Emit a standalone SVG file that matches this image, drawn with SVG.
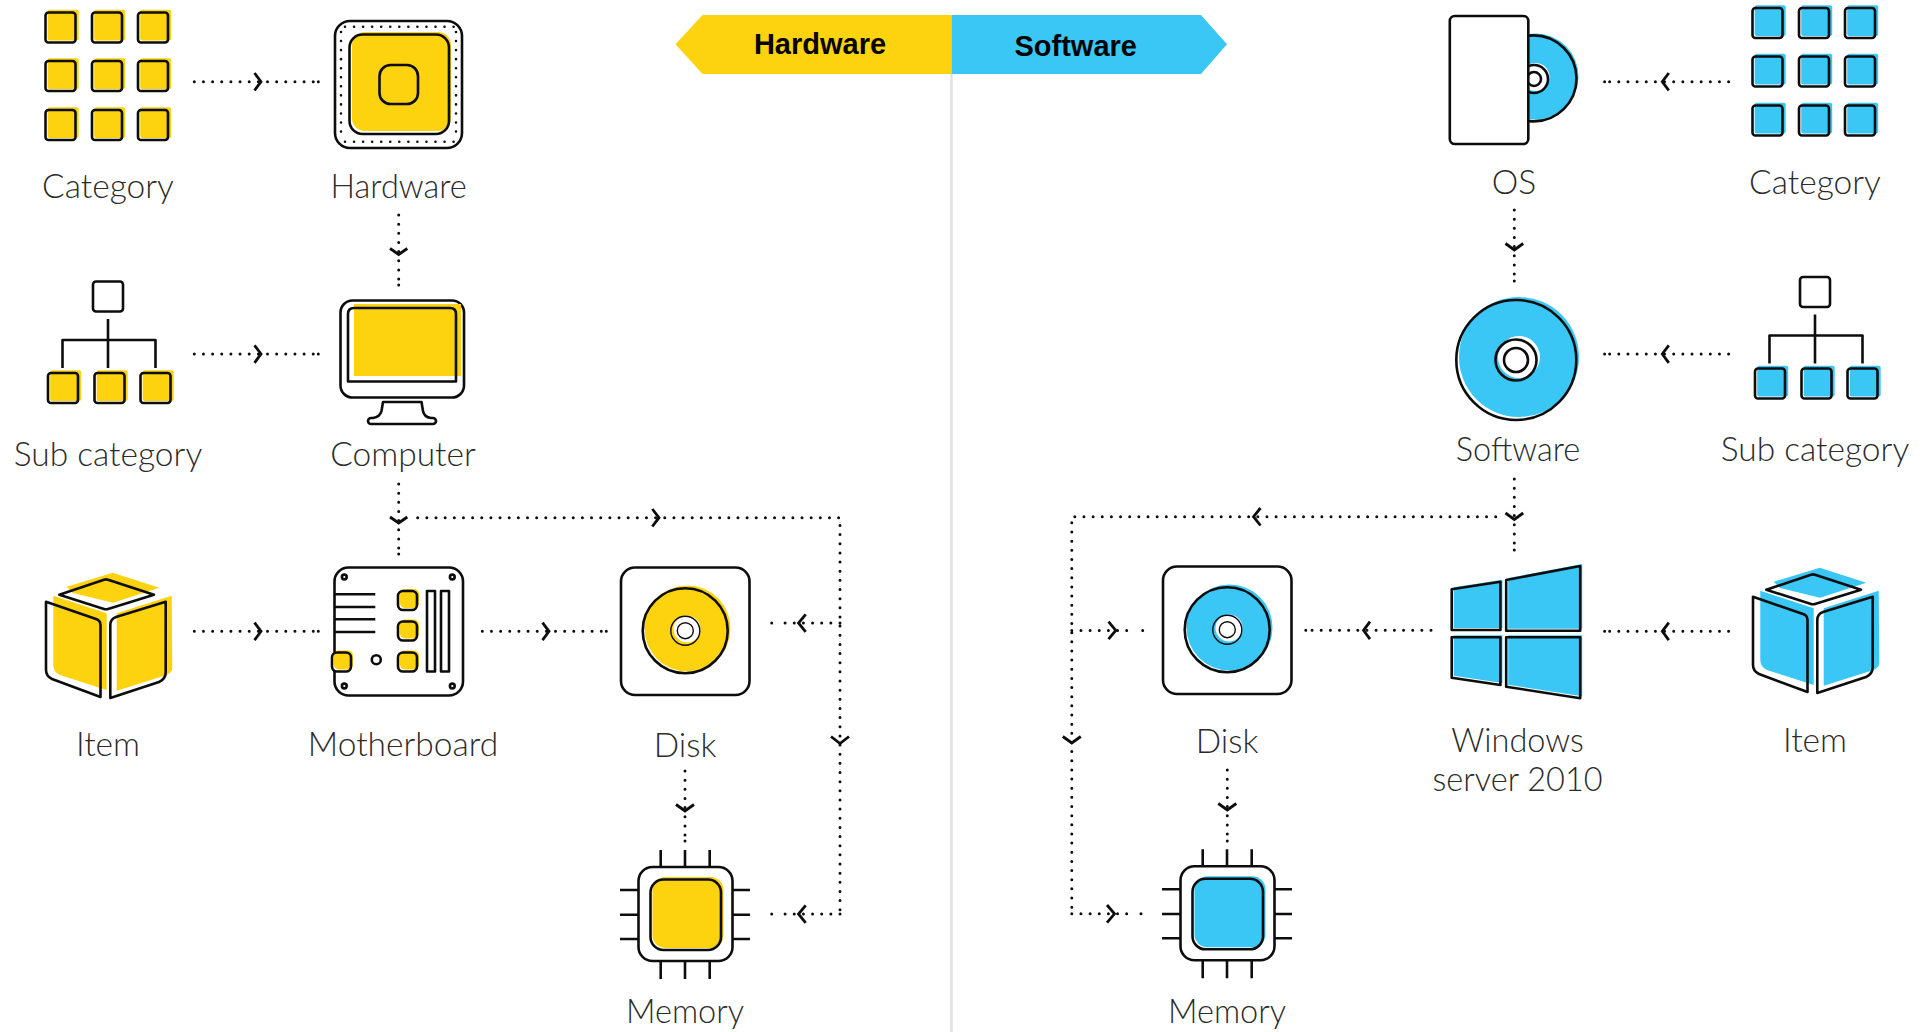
<svg xmlns="http://www.w3.org/2000/svg" xmlns:xlink="http://www.w3.org/1999/xlink" width="1930" height="1032" viewBox="0 0 1930 1032">
<style>
text{font-family:"Lato","Liberation Sans",sans-serif;font-weight:300;font-size:33.5px;fill:#2b2b2b;text-anchor:middle}
text.n{font-size:32.5px}
text.b{font-family:"Liberation Sans",Arial,sans-serif;font-weight:700;font-size:29px;fill:#050505}
.k{fill:none;stroke:#0d0d0d;stroke-width:2.6;stroke-linejoin:round;stroke-linecap:butt}
.w{fill:#fff;stroke:#0d0d0d;stroke-width:2.6;stroke-linejoin:round}
.t{fill:none;stroke:#0d0d0d;stroke-width:1.4}
.f{fill:currentColor}
.y{color:#fdd20e}
.u{color:#3bc7f6}
.d{fill:none;stroke:#0d0d0d;stroke-width:3;stroke-linecap:round;stroke-dasharray:0 9.15}
.e{fill:none;stroke:#0d0d0d;stroke-width:3;stroke-linecap:round}
.c{fill:none;stroke:#0d0d0d;stroke-width:2.8;stroke-linejoin:miter}
</style>
<defs>
<g id="sq"><rect class="f" x="2.2" y="-2.8" width="31" height="30.800" rx="2"/><rect class="k" width="30" height="30" rx="3"/></g>
<g id="grid">
<use href="#sq" x="45.5" y="12.5"/><use href="#sq" x="92" y="12.5"/><use href="#sq" x="138" y="12.5"/>
<use href="#sq" x="45.5" y="61"/><use href="#sq" x="92" y="61"/><use href="#sq" x="138" y="61"/>
<use href="#sq" x="45.5" y="110"/><use href="#sq" x="92" y="110"/><use href="#sq" x="138" y="110"/>
</g>
<g id="tree">
<rect class="k" x="93" y="281.500" width="30" height="30" rx="3"/>
<path class="k" d="M108 319V368M62.500 368V340H155.500V368"/>
<use href="#sq" x="48" y="373"/><use href="#sq" x="94.500" y="373"/><use href="#sq" x="140.500" y="373"/>
</g>
<g id="cube">
<path class="f" d="M66.700 586.700L112.700 572.700L159.300 587.700L113 602.700L73 593ZM53.300 595.700L106.700 613.300V690L60 675Q53.300 672 53.300 665ZM171.700 595.700L116.700 613.300V690.700L166.700 675Q172.300 672 172.300 668Z"/>
<path class="k" d="M59.300 594.700L104 579.700Q106 579 108 579.700L154 594.700L108 609Q106 609.600 104 609ZM46 601.700L96 619Q100.500 620.500 100.500 625V697L52 679Q46 676 46 670ZM165.700 601.700L116 617Q110.300 619 110.300 625V698L159 682Q165.700 679 165.700 672Z"/>
</g>
<g id="disk">
<rect class="k" x="621" y="567.500" width="128.500" height="127.500" rx="14"/>
<circle class="f" cx="687.500" cy="628.500" r="43"/>
<circle class="k" cx="685.200" cy="630.700" r="42.500"/>
<circle cx="687" cy="629" r="13.500" fill="#fff"/>
<circle class="t" cx="685.300" cy="630.700" r="14.500"/>
<circle class="t" cx="685.300" cy="630.700" r="8"/>
</g>
<g id="chip">
<path class="k" d="M660.700 850V867M685 850V867M709.700 850V867M660.700 961V979M685 961V979M709.700 961V979M620 890H638M620 914.700H638M620 939H638M733 890H750M733 914.700H750M733 939H750"/>
<rect class="k" x="638.500" y="867" width="94" height="94" rx="14"/>
<rect class="f" x="652.500" y="877" width="71" height="71" rx="13"/>
<rect class="k" x="650.500" y="879.500" width="70.500" height="70.500" rx="13"/>
</g>
</defs>

<g id="divider"><rect x="950.200" y="74" width="2.600" height="958" fill="#e2e2e2"/></g>

<g id="banner-hardware"><path d="M951.500 15H702.500L675.500 44.300L702.500 74H951.500Z" fill="#fdd20e"/><text class="b" x="820" y="54">Hardware</text></g>
<g id="banner-software"><path d="M951.500 15H1201L1227 44.300L1201 74H951.500Z" fill="#3bc7f6"/><text class="b" x="1075.700" y="56">Software</text></g>

<g id="connectors">
<path class="d" d="M194.300 81.700H313.500M194.300 354H313.500M194.300 631.300H313.500M482.300 631.300H601.500"/>
<path class="d" d="M398.700 215V280M398.700 484V549M417.700 517.700H840V914M840 623H780M840 914H780M685 771V836"/>
<path class="d" d="M1728.600 81.700H1609M1728.600 354H1609M1728.600 631.300H1609M1431 630.300H1310"/>
<path class="d" d="M1514.300 210V276M1514.300 479V545M1495.700 516.700H1071.800V913.800M1071.800 913.800H1133M1071.800 630.400H1135M1227.300 770V836"/>
<path class="e" d="M318.300 81.700h.01M318.300 354h.01M318.300 631.300h.01M606.300 631.300h.01M398.700 285v.01M398.700 554v.01M685 841v.01M1604.600 81.700h.01M1604.600 354h.01M1604.600 631.300h.01M1305.800 630.300h.01M1514.300 281v.01M1514.300 550v.01M1227.300 841v.01M771.700 623h.01M771.700 914h.01M1142.700 630.400h.01M1141 913.800h.01"/>
<path class="c" d="M254.500 73L261 81.700L254.500 90.500M254.500 345.300L261 354L254.500 362.800M254.500 622.600L261 631.300L254.500 640.100M542.500 622.600L549 631.300L542.500 640.100M390 248.500L398.700 254.500L407.300 248.500M390 517L398.700 523L407.300 517M652.300 509L659 517.700L652.300 526.500M831 736.500L840 743.500L849 736.500M805.700 614.300L798.500 623L805.700 631.800M805.700 905.300L798.500 914L805.700 922.800M676 804.500L685 811L694 804.500M1668.800 73L1662.300 81.700L1668.800 90.500M1668.800 345.300L1662.300 354L1668.800 362.800M1668.800 622.600L1662.300 631.300L1668.800 640.100M1370 621.600L1363.500 630.300L1370 639.100M1505.500 243.500L1514.300 250L1523.200 243.500M1505.500 513L1514.300 519.500L1523.200 513M1260.500 508L1253.500 516.700L1260.500 525.500M1062.800 736.500L1071.800 743L1080.800 736.500M1108.500 621.600L1115.800 630.400L1108.500 639.200M1107 905L1114.500 913.800L1107 922.600M1218.300 803.500L1227.300 810L1236.300 803.500"/>
</g>

<g id="left-category" class="y"><use href="#grid"/><text x="108" y="198">Category</text></g>
<g id="left-hardware" class="y">
<rect class="k" x="335" y="21" width="127" height="127" rx="15"/>
<path class="e" style="stroke-width:2.600;stroke-dasharray:0 9.05" d="M345 26.700H455M456 32V135M341 32V135M345 141.700H455"/>
<rect class="f" x="352" y="32" width="99" height="99" rx="13"/>
<rect class="k" x="349.500" y="34.500" width="99.500" height="99.500" rx="13"/>
<rect class="k" x="379.500" y="65" width="38.500" height="39" rx="11"/>
<text class="n" x="398.700" y="198">Hardware</text>
</g>
<g id="left-subcategory" class="y"><use href="#tree"/><text x="108" y="466">Sub category</text></g>
<g id="left-computer" class="y">
<rect class="k" x="340.500" y="300.500" width="123.500" height="97" rx="12"/>
<rect class="f" x="354" y="304" width="107" height="72"/>
<path class="k" d="M348 381.500V314Q348 308 354 308H450Q456 308 456 314V381.500Z"/>
<path class="k" d="M383 402L381.500 411Q380 417 373 418H371A3 3 0 0 0 371 424H433A3 3 0 0 0 433 418H431Q424 417 423 411L421.500 402Z"/>
<text x="403" y="466">Computer</text>
</g>
<g id="left-item" class="y"><use href="#cube"/><text x="108" y="756">Item</text></g>
<g id="left-motherboard" class="y">
<rect class="k" x="334.500" y="567.500" width="128.500" height="128" rx="14"/>
<circle class="k" cx="344.300" cy="577" r="2.400"/><circle class="k" cx="452.300" cy="577" r="2.400"/><circle class="k" cx="344.300" cy="686" r="2.400"/><circle class="k" cx="452.300" cy="686" r="2.400"/>
<path class="k" d="M334 594.300H375.300M334 607H375.300M334 619.300H375.300M334 632H375.300"/>
<rect class="f" x="400" y="589" width="19" height="19" rx="5"/><rect class="k" x="398" y="591" width="19" height="19" rx="5"/>
<rect class="f" x="400" y="619.500" width="19" height="19" rx="5"/><rect class="k" x="398" y="621.500" width="19" height="19" rx="5"/>
<rect class="f" x="400" y="650.500" width="19" height="19" rx="5"/><rect class="k" x="398" y="652.500" width="19" height="19" rx="5"/>
<rect fill="#fff" x="332" y="652.500" width="19" height="19" rx="5"/><rect class="f" x="334" y="650.500" width="19" height="19" rx="5"/><rect class="k" x="332" y="652.500" width="19" height="19" rx="5"/>
<circle class="k" cx="376.300" cy="659.700" r="4.500"/>
<rect class="k" x="427" y="591" width="8" height="80.500"/><rect class="k" x="441" y="591" width="8" height="80.500"/>
<text x="403" y="756">Motherboard</text>
</g>
<g id="left-disk" class="y"><use href="#disk"/><text x="685" y="757">Disk</text></g>
<g id="left-memory" class="y"><use href="#chip"/><text class="n" x="685" y="1023">Memory</text></g>

<g id="right-os" class="u">
<circle class="f" cx="1535.500" cy="76.500" r="43"/>
<circle class="k" cx="1533.500" cy="78.400" r="43"/>
<circle cx="1535.500" cy="77" r="14" fill="#fff"/>
<circle class="k" cx="1534" cy="79" r="14"/>
<circle class="k" cx="1534" cy="79" r="7"/>
<rect class="w" x="1449.800" y="16" width="78.500" height="128" rx="5"/>
<text x="1514" y="193.500">OS</text>
</g>
<g id="right-category" class="u"><use href="#grid" x="1707" y="-4.500"/><text x="1815" y="193.500">Category</text></g>
<g id="right-software" class="u">
<circle class="f" cx="1519" cy="357" r="60"/>
<circle class="k" cx="1516.300" cy="360" r="60"/>
<circle cx="1519" cy="357" r="21" fill="#fff"/>
<circle class="k" cx="1516" cy="360" r="20.500"/>
<circle class="k" cx="1516" cy="360" r="12"/>
<text class="n" x="1518" y="461">Software</text>
</g>
<g id="right-subcategory" class="u"><use href="#tree" x="1707" y="-4.500"/><text x="1815" y="461">Sub category</text></g>
<g id="right-windows" class="u">
<path class="f" d="M1453.700 587.300L1502.400 579.700V628H1453.700ZM1508.200 578L1582.200 564V628.700H1508.200ZM1453.700 635.300H1502.400V683L1453.700 675.700ZM1508.200 635.300H1582.200V696.300L1508.200 684.700Z"/>
<path class="k" d="M1451.700 589.300L1500.400 581.700V630H1451.700ZM1506.200 580L1580.200 566V630.700H1506.200ZM1451.700 637.300H1500.400V685L1451.700 677.700ZM1506.200 637.300H1580.200V698.300L1506.200 686.700Z"/>
<text class="n" x="1517.600" y="752">Windows</text>
<text class="n" x="1517.600" y="790.700">server 2010</text>
</g>
<g id="right-item" class="u"><use href="#cube" x="1707" y="-5"/><text x="1815" y="752">Item</text></g>
<g id="right-disk" class="u"><use href="#disk" x="542" y="-1"/><text x="1227" y="752.500">Disk</text></g>
<g id="right-memory" class="u"><use href="#chip" x="542" y="-0.700"/><text class="n" x="1227" y="1023">Memory</text></g>
</svg>
